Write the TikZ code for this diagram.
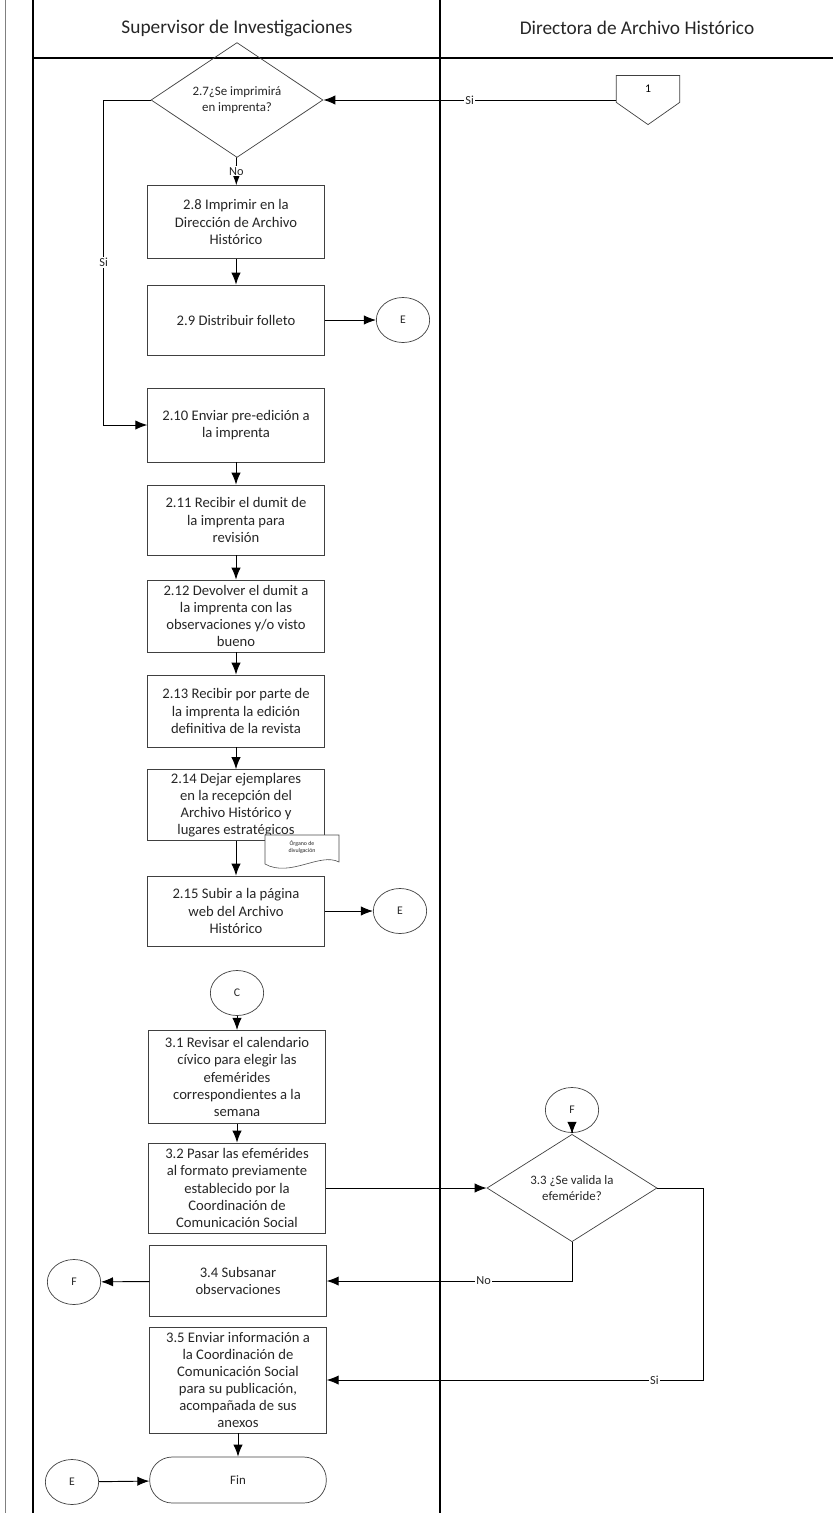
\documentclass[tikz,border=0pt]{standalone}
\usepackage{fontspec}
\setmainfont{Carlito}
\usetikzlibrary{shapes.geometric,shapes.symbols,arrows.meta}
\tikzset{
  caja/.style={draw=black!75, line width=0.6pt, rectangle, minimum width=5.3cm, align=center, inner sep=2pt, text=black!85, font=\fontsize{12.5}{14.6}\selectfont},
  decision/.style={draw=black!75, line width=0.6pt, diamond, inner sep=0pt, align=center, text=black!85, font=\fontsize{11}{13}\selectfont},
  conector/.style={draw=black!75, line width=0.6pt, ellipse, minimum width=1.6cm, minimum height=1.35cm, text=black!85, font=\fontsize{10}{12}\selectfont},
  flecha/.style={draw=black, line width=0.8pt, -{Latex[length=3.6mm,width=2.8mm]}},
  etiqueta/.style={fill=white, inner sep=1pt, text=black!85, font=\fontsize{10.5}{12}\selectfont},
}
\begin{document}
\begin{tikzpicture}[x=0.03cm, y=-0.03cm]
\useasboundingbox (0,0) rectangle (833,1513);
% Carriles
\draw[black!50, line width=0.5pt] (5,0) -- (5,1513);
\draw[line width=0.9pt] (33,0) -- (33,1513);
\draw[line width=0.9pt] (440,0) -- (440,1513);
\draw[line width=1.4pt] (33,58) -- (833,58);
\node[font=\fontsize{16.5}{19}\selectfont, text=black!85] (carril1) at (237,28) {Supervisor de Investigaciones};
\node[font=\fontsize{16.5}{19}\selectfont, text=black!85] (carril2) at (637,28) {Directora de Archivo Histórico};
% Decision 2.7
\node[decision, minimum width=5.16cm, minimum height=1.86cm] (d27) at (237,100) {2.7¿Se imprimirá\\en imprenta?};
\node[signal, signal to=south, signal pointer angle=110, draw=black!75, line width=0.6pt, minimum width=1.9cm, minimum height=0.95cm, font=\fontsize{10}{12}\selectfont] (c1) at (648,89) {1};
% Pasos 2.8 - 2.15
\node[caja, minimum height=2.19cm] (b28) at (236,222) {2.8 Imprimir en la\\Dirección de Archivo\\Histórico};
\node[caja, minimum height=2.1cm] (b29) at (236,320) {2.9 Distribuir folleto};
\node[conector] (e1) at (403,320) {E};
\node[caja, minimum height=2.22cm] (b210) at (236,425) {2.10 Enviar pre-edición a\\la imprenta};
\node[caja, minimum height=2.1cm] (b211) at (236,520) {2.11 Recibir el dumit de\\la imprenta para\\revisión};
\node[caja, minimum height=2.16cm] (b212) at (236,616) {2.12 Devolver el dumit a\\la imprenta con las\\observaciones y/o visto\\bueno};
\node[caja, minimum height=2.16cm] (b213) at (236,711) {2.13 Recibir por parte de\\la imprenta la edición\\definitiva de la revista};
\node[caja, minimum height=2.13cm] (b214) at (236,805) {2.14 Dejar ejemplares\\en la recepción del\\Archivo Histórico y\\lugares estratégicos};
\node[caja, minimum height=2.1cm] (b215) at (236,911) {2.15 Subir a la página\\web del Archivo\\Histórico};
\node[conector] (e2) at (400,911) {E};
% Documento
\draw[draw=black!70, line width=0.5pt, fill=white] (265,835) -- (339,835) -- (339,862) .. controls (320,852) and (290,878) .. (265,864) -- cycle;
\node[font=\fontsize{5}{6}\selectfont, align=center, text=black!85] (doc) at (302,847) {Órgano de\\divulgación};
% Pasos 3.x
\node[conector] (cC) at (237,993) {C};
\node[caja, minimum height=2.8cm] (b31) at (237,1077) {3.1 Revisar el calendario\\cívico para elegir las\\efemérides\\correspondientes a la\\semana};
\node[caja, minimum height=2.7cm] (b32) at (237,1188) {3.2 Pasar las efemérides\\al formato previamente\\establecido por la\\Coordinación de\\Comunicación Social};
\node[conector] (cF) at (572,1110) {F};
\node[decision, minimum width=5.1cm, minimum height=2.1cm] (d33) at (572,1188) {3.3 ¿Se valida la\\efeméride?};
\node[caja, minimum height=2.13cm] (b34) at (238,1281) {3.4 Subsanar\\observaciones};
\node[conector] (cF2) at (74,1282) {F};
\node[caja, minimum height=3.18cm] (b35) at (238,1380) {3.5 Enviar información a\\la Coordinación de\\Comunicación Social\\para su publicación,\\acompañada de sus\\anexos};
\node[draw=black!75, line width=0.6pt, rectangle, rounded corners=0.68cm, minimum width=5.3cm, minimum height=1.38cm, text=black!85, font=\fontsize{11}{13}\selectfont] (fin) at (238,1480) {Fin};
\node[conector] (cE3) at (72,1482) {E};
% Conectores
\draw[flecha] (c1.west |- d27) -- node[etiqueta]{Si} (d27.east);
\draw[flecha] (d27) -- node[etiqueta]{No} (b28);
\draw[flecha] (d27.west) -- ++(-47,0) |- node[etiqueta, pos=0.25]{Si} (b210.west);
\draw[flecha] (b28) -- (b29);
\draw[flecha] (b29) -- (e1);
\draw[flecha] (b210) -- (b211);
\draw[flecha] (b211) -- (b212);
\draw[flecha] (b212) -- (b213);
\draw[flecha] (b213) -- (b214);
\draw[flecha] (b214) -- (b215);
\draw[flecha] (b215) -- (e2);
\draw[flecha] (cC) -- (b31);
\draw[flecha] (b31) -- (b32);
\draw[flecha] (b32) -- (d33);
\draw[flecha] (cF) -- (d33);
\draw[flecha] (d33.south) |- node[etiqueta, pos=0.68]{No} (b34.east);
\draw[flecha] (d33.east) -- ++(46,0) |- node[etiqueta, pos=0.565]{Si} (b35.east);
\draw[flecha] (b34) -- (cF2);
\draw[flecha] (b35) -- (fin);
\draw[flecha] (cE3) -- (fin);
\end{tikzpicture}
\end{document}
